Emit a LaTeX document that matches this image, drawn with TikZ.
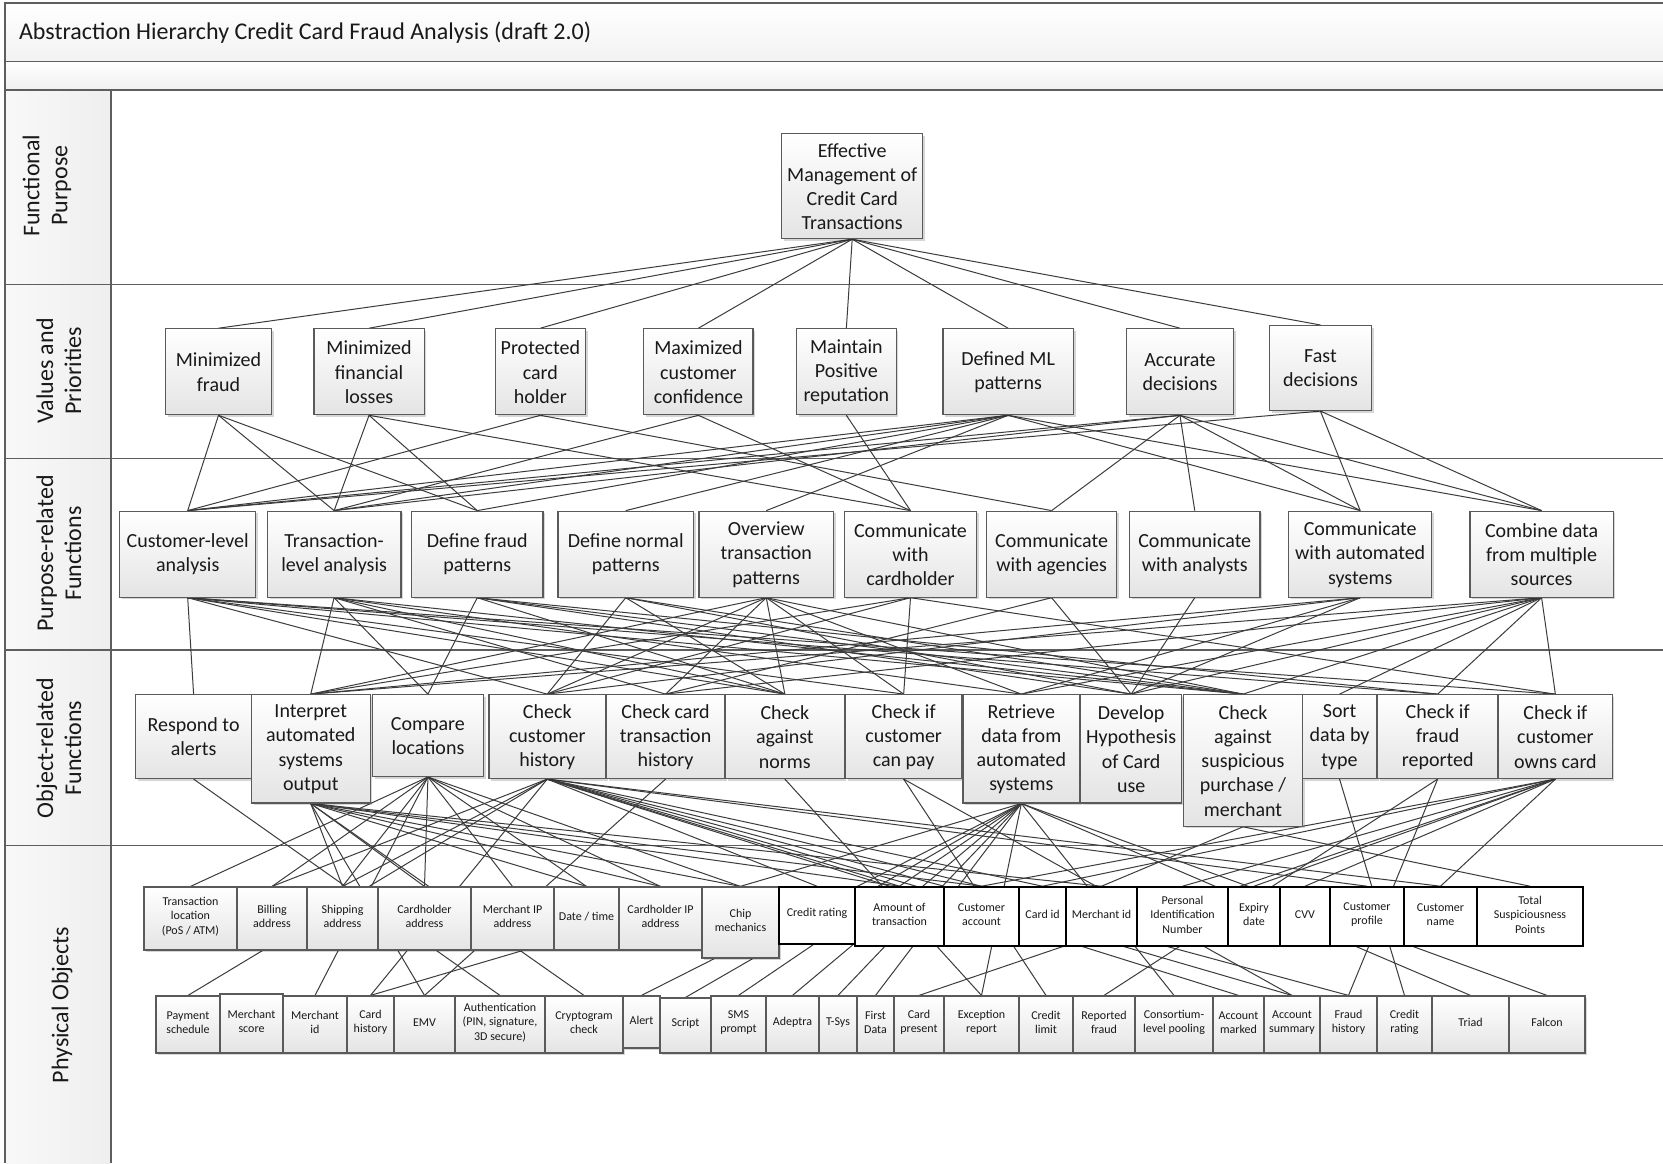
\documentclass[tikz,border=0pt]{standalone}
\usepackage{fontspec}
\setmainfont{Carlito}
\usetikzlibrary{fit,shadows}
\pgfdeclarelayer{back}
\pgfdeclarelayer{links}
\pgfsetlayers{back,links,main}

\definecolor{boxline}{HTML}{5A5A5A}
\definecolor{boxfill}{HTML}{E4E4E4}
\definecolor{linkcol}{HTML}{3C3C3C}
\definecolor{framecol}{HTML}{5E5E5E}

\tikzset{
  box/.style={draw=boxline, line width=0.6pt, top color=white, bottom color=boxfill,
    inner sep=0pt,
    drop shadow={shadow xshift=1.1pt, shadow yshift=-1.1pt, fill=black, opacity=0.16}},
  pbox/.style={box},
  wbox/.style={draw=black, line width=0.8pt, fill=white, inner sep=0pt},
  boxtxt/.style={align=center, inner sep=0pt, text=black!90, yshift=-0.2pt,
    font=\fontsize{10}{12.1}\selectfont},
  pboxtxt/.style={align=center, inner sep=0pt, text=black!90, yshift=1pt,
    font=\fontsize{6}{7.2}\selectfont},
  wboxtxt/.style={pboxtxt},
  link/.style={draw=linkcol, line width=0.5pt},
  lane/.style={draw=framecol, line width=0.7pt},
  lanelabel/.style={rotate=90, align=center, text=black!90, font=\fontsize{12}{14}\selectfont}
}

% \bx{name}{style}{top-left corner}{bottom-right corner}{text}
\newcommand\bx[5]{%
  \node[#2, fit={(#3) (#4)}] (#1) {};
  \node[#2txt] (#1-t) at (#1.center) {#5};}

\begin{document}
\begin{tikzpicture}[x=0.5pt, y=-0.5pt]
\useasboundingbox (0,0) rectangle (1663,1163);

% ---------- frame, title band and swimlanes ----------
\begin{pgfonlayer}{back}
  \fill[white] (0,0) rectangle (1663,1163);
  \shade[top color=white, bottom color=gray!10] (5,3) rectangle (1663,61.5);
  \shade[top color=white, bottom color=gray!12] (5,61.5) rectangle (1663,90);
  \shade[left color=gray!5, right color=gray!13] (5,90) rectangle (111,1163);
  \draw[lane] (1663,3) -- (5,3) -- (5,1163);
  \draw[lane] (5,61.5) -- (1663,61.5);
  \draw[lane] (5,90) -- (1663,90);
  \draw[lane] (111,90) -- (111,1163);
  \draw[lane] (5,284.2) -- (1663,284.2);
  \draw[lane] (5,458.2) -- (1663,458.2);
  \draw[lane] (5,650.1) -- (1663,650.1);
  \draw[lane] (5,845.3) -- (1663,845.3);
\end{pgfonlayer}

\node[anchor=west, text=black!90, font=\fontsize{12}{14}\selectfont] (title) at (12,33)
  {Abstraction Hierarchy Credit Card Fraud Analysis (draft 2.0)};

\node[lanelabel] (lfp) at (47,185.6) {Functional\\Purpose};
\node[lanelabel] (lvp) at (59,371) {Values and\\Priorities};
\node[lanelabel] (lpf) at (59,553.6) {Purpose-related\\Functions};
\node[lanelabel] (lof) at (59,748) {Object-related\\Functions};
\node[lanelabel] (lpo) at (62,1005) {Physical Objects};

% ---------- functional purpose ----------
\bx{em}{box}{781.7,133.6}{922.7,238.6}{Effective\\Management of\\Credit Card\\Transactions}

% ---------- values and priorities ----------
\bx{v1}{box}{165.5,328.8}{271.5,414.7}{Minimized\\fraud}
\bx{v2}{box}{313.9,328.8}{424.2,414.7}{Minimized\\financial\\losses}
\bx{v3}{box}{495.3,328.8}{585.5,414.7}{Protected\\card\\holder}
\bx{v4}{box}{643.8,328.8}{753,414.7}{Maximized\\customer\\confidence}
\bx{v5}{box}{796.5,328.8}{896.2,414.7}{Maintain\\Positive\\reputation}
\bx{v6}{box}{942.9,328.8}{1073.3,414.7}{Defined ML\\patterns}
\bx{v7}{box}{1126.4,328.8}{1233.5,414.7}{Accurate\\decisions}
\bx{v8}{box}{1269.5,325.6}{1371.4,410.5}{Fast\\decisions}

% ---------- purpose-related functions ----------
\bx{p1}{box}{119.8,511.2}{255.6,597.1}{Customer-level\\analysis}
\bx{p2}{box}{267.3,511.2}{400.9,597.1}{Transaction-\\level analysis}
\bx{p3}{box}{411.5,511.2}{543,597.1}{Define fraud\\patterns}
\bx{p4}{box}{557.9,511.2}{693.6,597.1}{Define normal\\patterns}
\bx{p5}{box}{698.9,511.2}{833.6,597.1}{Overview\\transaction\\patterns}
\bx{p6}{box}{844.2,511.2}{976.8,597.1}{Communicate\\with\\cardholder}
\bx{p7}{box}{986.4,511.2}{1116.8,597.1}{Communicate\\with agencies}
\bx{p8}{box}{1129.5,511.2}{1260,597.1}{Communicate\\with analysts}
\bx{p9}{box}{1288.6,511.2}{1431.8,597.1}{Communicate\\with automated\\systems}
\bx{p10}{box}{1470,511.2}{1613.2,597.1}{Combine data\\from multiple\\sources}

% ---------- object-related functions ----------
\bx{o1}{box}{135.8,694.7}{251.4,778.5}{Respond to\\alerts}
\bx{o2}{box}{251.4,694.7}{370.1,802.9}{Interpret\\automated\\systems\\output}
\bx{o3}{box}{372.3,694.7}{483.6,776.4}{Compare\\locations}
\bx{o4}{box}{488.9,694.7}{605.6,778.5}{Check\\customer\\history}
\bx{o5}{box}{606.7,694.7}{724.4,778.5}{Check card\\transaction\\history}
\bx{o6}{box}{725.5,694.7}{844.2,778.5}{Check\\against\\norms}
\bx{o7}{box}{845.3,694.7}{962,778.5}{Check if\\customer\\can pay}
\bx{o8}{box}{963,694.7}{1079.7,802.9}{Retrieve\\data from\\automated\\systems}
\bx{o9}{box}{1080.8,694.7}{1181.5,802.9}{Develop\\Hypothesis\\of Card\\use}
\bx{o10}{box}{1183.6,694.7}{1302.4,826.2}{Check\\against\\suspicious\\purchase /\\merchant}
\bx{o11}{box}{1302.4,694.7}{1376.7,778.5}{Sort\\data by\\type}
\bx{o12}{box}{1377.7,694.7}{1497.6,778.5}{Check if\\fraud\\reported}
\bx{o13}{box}{1498.6,694.7}{1612.1,778.5}{Check if\\customer\\owns card}

% ---------- physical objects, upper row ----------
\bx{tloc}{pbox}{144,887}{237,950}{Transaction\\location\\(PoS / ATM)}
\bx{billing}{pbox}{237,887}{307,950}{Billing\\address}
\bx{shipping}{pbox}{307,887}{378,950}{Shipping\\address}
\bx{chaddr}{pbox}{378,887}{471,950}{Cardholder\\address}
\bx{mipaddr}{pbox}{471,887}{554,950}{Merchant IP\\address}
\bx{datetime}{pbox}{554,887}{619,950}{Date / time}
\bx{chipaddr}{pbox}{619,887}{702,950}{Cardholder IP\\address}
\bx{chipmech}{pbox}{702,887}{779,958}{Chip\\mechanics}
\bx{crating1}{wbox}{779,887}{855,944}{Credit rating}
\bx{amount}{wbox}{855,887}{944,946}{Amount of\\transaction}
\bx{custacct}{wbox}{944,887}{1019,946}{Customer\\account}
\bx{cardid}{wbox}{1019,887}{1066,946}{Card id}
\bx{merchid1}{wbox}{1066,887}{1137,946}{Merchant id}
\bx{pin}{wbox}{1137,887}{1228,946}{Personal\\Identification\\Number}
\bx{expiry}{wbox}{1228,887}{1280,946}{Expiry\\date}
\bx{cvv}{wbox}{1280,887}{1330,946}{CVV}
\bx{custprof}{wbox}{1330,887}{1404,946}{Customer\\profile}
\bx{custname}{wbox}{1404,887}{1477,946}{Customer\\name}
\bx{tsp}{wbox}{1477,887}{1583,946}{Total\\Suspiciousness\\Points}

% ---------- physical objects, lower row ----------
\bx{payment}{pbox}{156,996}{220,1053}{Payment\\schedule}
\bx{mscore}{pbox}{220,994}{283,1053}{Merchant\\score}
\bx{merchid2}{pbox}{283,996}{347,1053}{Merchant\\id}
\bx{cardhist}{pbox}{347,996}{394,1053}{Card\\history}
\bx{emv}{pbox}{394,996}{455,1053}{EMV}
\bx{auth}{pbox}{455,996}{545,1053}{Authentication\\(PIN, signature,\\3D secure)}
\bx{crypto}{pbox}{545,996}{623,1053}{Cryptogram\\check}
\bx{alert}{pbox}{623,996}{660,1048}{Alert}
\bx{script}{pbox}{660,998}{711,1053}{Script}
\bx{sms}{pbox}{711,996}{766,1053}{SMS\\prompt}
\bx{adeptra}{pbox}{766,996}{819,1053}{Adeptra}
\bx{tsys}{pbox}{819,996}{857,1053}{T-Sys}
\bx{firstdata}{pbox}{857,996}{894,1053}{First\\Data}
\bx{cardpres}{pbox}{894,996}{944,1053}{Card\\present}
\bx{exception}{pbox}{944,996}{1019,1053}{Exception\\report}
\bx{credlimit}{pbox}{1019,996}{1073,1053}{Credit\\limit}
\bx{reported}{pbox}{1073,996}{1135,1053}{Reported\\fraud}
\bx{consort}{pbox}{1135,996}{1213,1053}{Consortium-\\level pooling}
\bx{acctmarked}{pbox}{1213,996}{1264,1053}{Account\\marked}
\bx{acctsum}{pbox}{1264,996}{1320,1053}{Account\\summary}
\bx{fraudhist}{pbox}{1320,996}{1377,1053}{Fraud\\history}
\bx{crating2}{pbox}{1377,996}{1432,1053}{Credit\\rating}
\bx{triad}{pbox}{1432,996}{1509,1053}{Triad}
\bx{falcon}{pbox}{1509,996}{1585,1053}{Falcon}

% ---------- means-ends links ----------
\begin{pgfonlayer}{links}
  % purpose -> values
  \foreach \b in {v1,v2,v3,v4,v5,v6,v7,v8}
    \draw[link] (em.south) -- (\b.north);
  % values -> purpose-related functions
  \foreach \a/\b in {v1/p1,v1/p2,v1/p3, v2/p2,v2/p3,v2/p6, v3/p1,v3/p7,
      v4/p2,v4/p6, v5/p6,
      v6/p1,v6/p2,v6/p3,v6/p4,v6/p5,v6/p9,v6/p10,
      v7/p1,v7/p2,v7/p7,v7/p8,v7/p9,v7/p10,
      v8/p1,v8/p9,v8/p10}
    \draw[link] (\a.south) -- (\b.north);
  % purpose-related -> object-related functions
  \foreach \a/\b in {p1/o1,p1/o4,p1/o6,p1/o7,p1/o10,p1/o12,p1/o13,
      p2/o2,p2/o3,p2/o5,p2/o6,p2/o8,p2/o10,
      p3/o3,p3/o6,p3/o9,p3/o10,p3/o12,
      p4/o4,p4/o6,p4/o9,p4/o10,
      p5/o2,p5/o4,p5/o5,p5/o6,p5/o7,p5/o8,p5/o10,
      p6/o2,p6/o4,p6/o7,p6/o13,
      p7/o9,p7/o5, p8/o9,
      p9/o2,p9/o4,p9/o8,p9/o9,
      p10/o2,p10/o5,p10/o8,p10/o9,p10/o10,p10/o11,p10/o12,p10/o13}
    \draw[link] (\a.south) -- (\b.north);
  % object-related functions -> physical objects
  \foreach \a/\b in {o1/auth,
      o2/shipping,o2/chaddr,o2/datetime,o2/chipaddr,o2/chipmech,o2/amount,
      o2/custacct,o2/merchid1,o2/emv,o2/crypto,
      o3/tloc,o3/billing,o3/shipping,o3/chaddr,o3/mipaddr,o3/datetime,
      o3/chipaddr,o3/chipmech,o3/merchid2,
      o4/payment,o4/billing,o4/shipping,o4/crating1,o4/amount,o4/custacct,
      o4/cardid,o4/custprof,o4/custname,o4/acctmarked,o4/acctsum,
      o4/fraudhist,o4/cardhist,
      o5/emv, o6/exception, o7/credlimit,o7/acctsum,
      o8/script,o8/sms,o8/adeptra,o8/tsys,o8/firstdata,o8/alert,o8/cardhist,
      o8/consort,o8/triad,o8/falcon,o8/exception,
      o10/merchid1,o10/tsp, o11/crating2, o12/fraudhist,o12/reported,
      o13/pin,o13/cardid,o13/expiry,o13/cvv,o13/custname,o13/cardpres,o13/custacct}
    \draw[link] (\a.south) -- (\b.north);
\end{pgfonlayer}
\end{tikzpicture}
\end{document}
